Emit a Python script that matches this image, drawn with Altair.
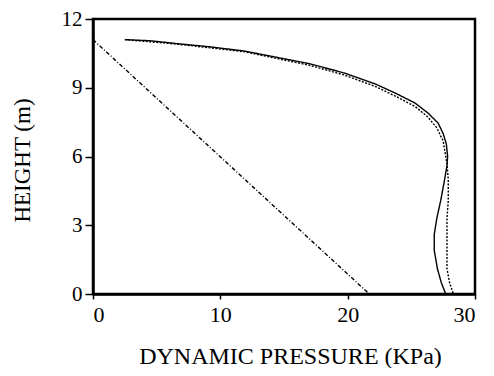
import altair as alt
import pandas as pd

# Solid curve
solid_x = [2.5, 4.5, 6.7, 9.3, 11.9, 14.5, 17.0, 19.7, 22.2, 23.8, 25.3, 26.3, 27.1, 27.5, 27.75, 27.85, 27.8, 27.55, 27.3, 27.0, 26.8, 26.8, 27.05, 27.35, 27.7]
solid_h = [11.1, 11.05, 10.92, 10.78, 10.6, 10.32, 10.05, 9.65, 9.16, 8.75, 8.33, 7.9, 7.46, 7.0, 6.54, 6.0, 5.6, 4.8, 4.06, 3.3, 2.6, 1.9, 1.1, 0.5, 0.0]

# Dotted curve
dot_x = [2.5, 6.7, 11.9, 14.5, 17.0, 19.7, 22.2, 23.8, 25.3, 26.3, 27.0, 27.3, 27.5, 27.8, 27.9, 27.9, 27.8, 27.8, 27.8, 28.0, 28.3]
dot_h = [11.1, 10.9, 10.57, 10.27, 9.98, 9.56, 9.05, 8.62, 8.18, 7.72, 7.25, 6.9, 6.68, 5.67, 5.0, 4.06, 3.3, 2.6, 1.1, 0.5, 0.0]

# Dash-dot straight line
dd_x = [0.0, 21.7]
dd_h = [11.1, 0.0]

x_ticks = [0, 10, 20, 30]
y_ticks = [0, 3, 6, 9, 12]

rows = []
for name, xs, hs in [("solid", solid_x, solid_h), ("dotted", dot_x, dot_h), ("dashdot", dd_x, dd_h)]:
    for i, (xv, hv) in enumerate(zip(xs, hs)):
        rows.append({"series": name, "p": xv, "h": hv, "o": i})
df = pd.DataFrame(rows)

FONT = "'Liberation Serif', 'Times New Roman', Times, 'DejaVu Serif', serif"

chart = alt.Chart(df).mark_line(color="black", strokeWidth=1.4).encode(
    x=alt.X("p:Q", scale=alt.Scale(domain=[0, 30], nice=False),
            axis=alt.Axis(values=x_ticks, title="DYNAMIC PRESSURE (KPa)", grid=False,
                          titleX=197, titleY=69, titleBaseline="alphabetic",
                          titleFont=FONT, titleFontSize=24, labelFont=FONT, labelFontSize=22,
                          labelPadding=5, tickSize=5)),
    y=alt.Y("h:Q", scale=alt.Scale(domain=[0, 12], nice=False),
            axis=alt.Axis(values=y_ticks, title="HEIGHT (m)", grid=False,
                          titleX=-64, titleY=141, titleBaseline="alphabetic", titleAngle=-90,
                          titleFont=FONT, titleFontSize=23, labelFont=FONT, labelFontSize=21,
                          labelPadding=3, tickSize=8)),
    detail="series:N",
    order="o:Q",
    strokeDash=alt.StrokeDash("series:N",
                              scale=alt.Scale(domain=["solid", "dotted", "dashdot"],
                                              range=[[1, 0], [2, 1.5], [4, 2, 1, 2]]),
                              legend=None),
    strokeWidth=alt.StrokeWidth("series:N",
                                scale=alt.Scale(domain=["solid", "dotted", "dashdot"],
                                                range=[1.6, 1.3, 1.1]),
                                legend=None),
).properties(
    width=382, height=275,
    autosize="none",
    padding={"left": 85, "top": 11, "right": 11, "bottom": 74},
).configure(
    font=FONT
).configure_view(
    stroke="black", strokeWidth=2.5
).configure_axis(
    domainColor="black", domainWidth=2.5, tickColor="black", tickWidth=1.5,
    labelColor="black", titleColor="black", titleFontWeight="normal",
)

chart.save("out.html", embed_options={"renderer": "svg", "actions": False})
